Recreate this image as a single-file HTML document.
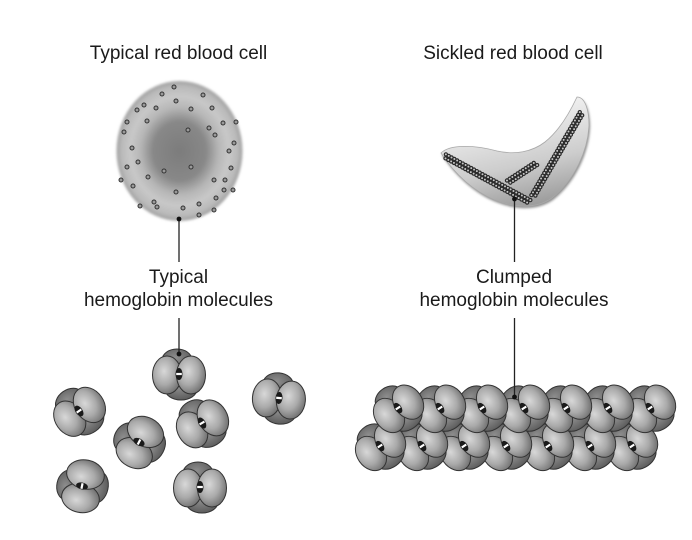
<!DOCTYPE html>
<html><head><meta charset="utf-8"><style>
html,body{margin:0;padding:0;background:#fff;}
svg{display:block;}
text{font-family:"Liberation Sans",Arial,sans-serif;font-size:19px;fill:#1a1a1a;}
</style></head><body>
<svg width="692" height="540" viewBox="0 0 692 540" xmlns="http://www.w3.org/2000/svg">
<defs>
 <radialGradient id="rbc" cx="0.5" cy="0.5" r="0.5">
  <stop offset="0" stop-color="#7c7c7c"/>
  <stop offset="0.42" stop-color="#888888"/>
  <stop offset="0.62" stop-color="#b6b6b6"/>
  <stop offset="0.78" stop-color="#c8c8c8"/>
  <stop offset="0.92" stop-color="#bababa"/>
  <stop offset="1" stop-color="#a0a0a0"/>
 </radialGradient>
 <linearGradient id="sk" x1="0.35" y1="0.2" x2="0.6" y2="1">
  <stop offset="0" stop-color="#eeeeee"/>
  <stop offset="0.55" stop-color="#cdcdcd"/>
  <stop offset="1" stop-color="#9c9c9c"/>
 </linearGradient>
 <radialGradient id="gf" cx="0.4" cy="0.4" r="0.65">
  <stop offset="0" stop-color="#d8d8d8"/>
  <stop offset="0.55" stop-color="#aaaaaa"/>
  <stop offset="1" stop-color="#6e6e6e"/>
 </radialGradient>
 <radialGradient id="gb" cx="0.45" cy="0.4" r="0.65">
  <stop offset="0" stop-color="#8e8e8e"/>
  <stop offset="1" stop-color="#585858"/>
 </radialGradient>
 <filter id="bl" x="-10%" y="-10%" width="120%" height="120%"><feGaussianBlur stdDeviation="1.3"/></filter>
 <g id="hb">
  <ellipse cx="-2" cy="-14" rx="15" ry="11" fill="url(#gb)" stroke="#333" stroke-width="1"/>
  <ellipse cx="2" cy="15" rx="16" ry="11" fill="url(#gb)" stroke="#333" stroke-width="1"/>
  <ellipse cx="-12" cy="1" rx="14.5" ry="19" fill="url(#gf)" stroke="#333" stroke-width="1"/>
  <ellipse cx="12" cy="1" rx="14.5" ry="19" fill="url(#gf)" stroke="#333" stroke-width="1"/>
  <ellipse cx="0" cy="0" rx="3.5" ry="6" fill="#1a1a1a"/>
  <rect x="-2.8" y="-1.1" width="5.6" height="2.2" fill="#fff"/>
 </g>
</defs>

<!-- Titles -->
<text x="178.5" y="59" text-anchor="middle">Typical red blood cell</text>
<text x="513" y="59" text-anchor="middle">Sickled red blood cell</text>

<!-- Typical RBC -->
<ellipse cx="179.5" cy="151" rx="63" ry="70" fill="url(#rbc)" filter="url(#bl)"/>
<g fill="#9a9a9a" stroke="#333" stroke-width="1">
 <circle cx="174" cy="87" r="2"/><circle cx="162" cy="94" r="2"/><circle cx="203" cy="95" r="2"/>
 <circle cx="176" cy="101" r="2"/><circle cx="144" cy="105" r="2"/><circle cx="137" cy="110" r="2"/>
 <circle cx="156" cy="108" r="2"/><circle cx="191" cy="109" r="2"/><circle cx="212" cy="108" r="2"/>
 <circle cx="127" cy="122" r="2"/><circle cx="147" cy="121" r="2"/><circle cx="124" cy="132" r="2"/>
 <circle cx="188" cy="130" r="2"/><circle cx="209" cy="128" r="2"/><circle cx="223" cy="123" r="2"/>
 <circle cx="236" cy="122" r="2"/><circle cx="215" cy="135" r="2"/><circle cx="132" cy="148" r="2"/>
 <circle cx="234" cy="143" r="2"/><circle cx="229" cy="151" r="2"/><circle cx="138" cy="162" r="2"/>
 <circle cx="127" cy="167" r="2"/><circle cx="164" cy="171" r="2"/><circle cx="191" cy="167" r="2"/>
 <circle cx="231" cy="168" r="2"/><circle cx="121" cy="180" r="2"/><circle cx="148" cy="177" r="2"/>
 <circle cx="214" cy="180" r="2"/><circle cx="225" cy="180" r="2"/><circle cx="133" cy="186" r="2"/>
 <circle cx="176" cy="192" r="2"/><circle cx="224" cy="190" r="2"/><circle cx="233" cy="190" r="2"/>
 <circle cx="216" cy="198" r="2"/><circle cx="140" cy="206" r="2"/><circle cx="154" cy="202" r="2"/>
 <circle cx="157" cy="207" r="2"/><circle cx="183" cy="208" r="2"/><circle cx="199" cy="204" r="2"/>
 <circle cx="199" cy="215" r="2"/><circle cx="214" cy="210" r="2"/>
</g>

<!-- Sickle cell -->
<path d="M441,153 C450,144 475,145 497,151 C515,155 532,152 545,142 C560,130 570,112 577,97 C585,97 589,110 589,125 C588,150 575,180 552,198 C535,210 512,207 495,200 C475,192 455,175 441,153 Z" fill="#8a8a8a" filter="url(#bl)" transform="translate(1,2)"/>
<path d="M441,153 C450,144 475,145 497,151 C515,155 532,152 545,142 C560,130 570,112 577,97 C585,97 589,110 589,125 C588,150 575,180 552,198 C535,210 512,207 495,200 C475,192 455,175 441,153 Z" fill="url(#sk)" stroke="#a8a8a8" stroke-width="0.8"/>
<g fill="none" stroke-linecap="round">
 <g stroke="#2a2a2a" stroke-width="4.4" stroke-dasharray="0 3.2">
  <line x1="445.9" y1="154.4" x2="530.9" y2="200.4"/>
  <line x1="444.1" y1="157.6" x2="529.1" y2="203.6" stroke-dashoffset="1.6"/>
  <line x1="507" y1="180.5" x2="536" y2="161.5"/>
  <line x1="509" y1="183.5" x2="538" y2="164.5" stroke-dashoffset="1.6"/>
  <line x1="531.4" y1="195.1" x2="580.4" y2="111.1"/>
  <line x1="534.6" y1="196.9" x2="583.6" y2="112.9" stroke-dashoffset="1.6"/>
 </g>
 <g stroke="#c8c8c8" stroke-width="2.0" stroke-dasharray="0 3.2">
  <line x1="445.9" y1="154.4" x2="530.9" y2="200.4"/>
  <line x1="444.1" y1="157.6" x2="529.1" y2="203.6" stroke-dashoffset="1.6"/>
  <line x1="507" y1="180.5" x2="536" y2="161.5"/>
  <line x1="509" y1="183.5" x2="538" y2="164.5" stroke-dashoffset="1.6"/>
  <line x1="531.4" y1="195.1" x2="580.4" y2="111.1"/>
  <line x1="534.6" y1="196.9" x2="583.6" y2="112.9" stroke-dashoffset="1.6"/>
 </g>
</g>

<!-- Connectors top -->
<g stroke="#222" stroke-width="1.3">
 <line x1="179" y1="219" x2="179" y2="262"/>
 <line x1="514.5" y1="199" x2="514.5" y2="262"/>
</g>
<circle cx="179" cy="219" r="2.4" fill="#111"/>
<circle cx="514.5" cy="199" r="2.4" fill="#111"/>

<!-- Mid labels -->
<text x="178.5" y="283" text-anchor="middle">Typical</text>
<text x="178.5" y="306" text-anchor="middle">hemoglobin molecules</text>
<text x="514" y="283" text-anchor="middle">Clumped</text>
<text x="514" y="306" text-anchor="middle">hemoglobin molecules</text>

<!-- Free molecules -->
<use href="#hb" transform="translate(179,374)"/>
<use href="#hb" transform="translate(79,411) rotate(-35)"/>
<use href="#hb" transform="translate(279,398) rotate(5)"/>
<use href="#hb" transform="translate(139,442) rotate(-62)"/>
<use href="#hb" transform="translate(202,423) rotate(-30)"/>
<use href="#hb" transform="translate(82,486) rotate(-78)"/>
<use href="#hb" transform="translate(200,487)"/>

<!-- Clumped: bottom row (right to left) -->
<use href="#hb" transform="translate(632,446) rotate(-35) scale(0.97)"/>
<use href="#hb" transform="translate(590,446) rotate(-35) scale(0.97)"/>
<use href="#hb" transform="translate(548,446) rotate(-35) scale(0.97)"/>
<use href="#hb" transform="translate(506,446) rotate(-35) scale(0.97)"/>
<use href="#hb" transform="translate(464,446) rotate(-35) scale(0.97)"/>
<use href="#hb" transform="translate(422,446) rotate(-35) scale(0.97)"/>
<use href="#hb" transform="translate(380,446) rotate(-35) scale(0.97)"/>
<!-- top row -->
<use href="#hb" transform="translate(650,408) rotate(-35) scale(0.97)"/>
<use href="#hb" transform="translate(608,408) rotate(-35) scale(0.97)"/>
<use href="#hb" transform="translate(566,408) rotate(-35) scale(0.97)"/>
<use href="#hb" transform="translate(524,408) rotate(-35) scale(0.97)"/>
<use href="#hb" transform="translate(482,408) rotate(-35) scale(0.97)"/>
<use href="#hb" transform="translate(440,408) rotate(-35) scale(0.97)"/>
<use href="#hb" transform="translate(398,408) rotate(-35) scale(0.97)"/>

<!-- Connectors bottom -->
<g stroke="#222" stroke-width="1.3">
 <line x1="179" y1="318" x2="179" y2="354"/>
 <line x1="514.5" y1="318" x2="514.5" y2="397"/>
</g>
<circle cx="179" cy="354" r="2.4" fill="#111"/>
<circle cx="514.5" cy="397" r="2.4" fill="#111"/>
</svg>
</body></html>
